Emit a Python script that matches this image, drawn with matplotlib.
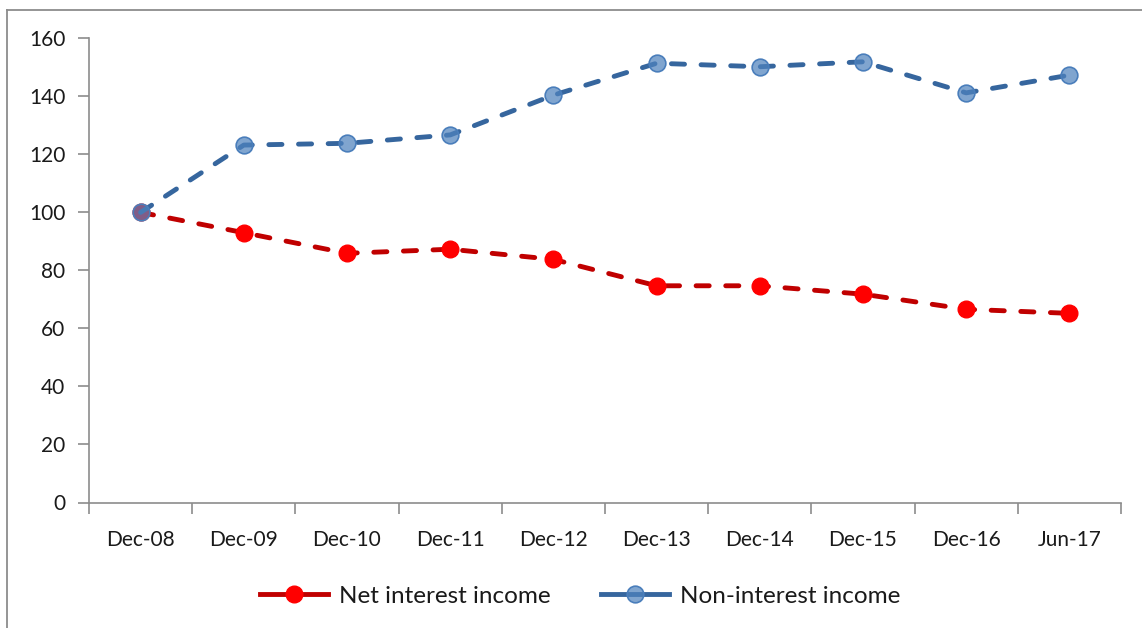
import matplotlib
matplotlib.use("Agg")
import matplotlib.pyplot as plt
from matplotlib.lines import Line2D

categories = ["Dec-08", "Dec-09", "Dec-10", "Dec-11", "Dec-12",
              "Dec-13", "Dec-14", "Dec-15", "Dec-16", "Jun-17"]
net_interest = [100, 93.0, 85.9, 87.3, 83.8, 74.7, 74.7, 71.8, 66.6, 65.2]
non_interest = [100, 123.2, 123.8, 126.7, 140.4, 151.4, 150.2, 151.9, 141.2, 147.3]
y_ticks = [0, 20, 40, 60, 80, 100, 120, 140, 160]

plt.rcParams['font.family'] = ['Lato', 'DejaVu Sans']

W, H = 1142, 628
fig = plt.figure(figsize=(W / 100, H / 100), dpi=100)
ax = fig.add_axes([89 / W, 1 - 502.5 / H, (1121 - 89) / W, (502.5 - 38.3) / H])

x = list(range(len(categories)))
dash = (0, (2.7, 3.4))

ax.plot(x, net_interest, color='#C00000', lw=3.5, linestyle=dash,
        dash_capstyle='round', marker='o', markersize=12,
        markerfacecolor='#FF0000', markeredgecolor='#FF0000', markeredgewidth=1,
        label='Net interest income', zorder=3)
ax.plot(x, non_interest, color='#36669E', lw=3.5, linestyle=dash,
        dash_capstyle='round', marker='o', markersize=12,
        markerfacecolor=(0.31, 0.51, 0.74, 0.72), markeredgecolor='#4A7EBB',
        markeredgewidth=1.2, label='Non-interest income', zorder=4)

ax.set_xlim(-0.5, len(categories) - 0.5)
ax.set_ylim(0, 160)
ax.set_yticks(y_ticks)
ax.set_yticklabels([str(v) for v in y_ticks])

ax.set_xticks([i - 0.5 for i in range(len(categories) + 1)])
ax.set_xticklabels([])
ax.set_xticks(x, minor=True)
ax.set_xticklabels(categories, minor=True)
ax.tick_params(axis='x', which='minor', length=0, pad=20, labelsize=15, labelcolor='#1a1a1a')
ax.tick_params(axis='x', which='major', length=8, width=1.2, color='#8c8c8c', direction='out')
ax.tick_params(axis='y', length=8, width=1.2, color='#8c8c8c', labelsize=15,
               labelcolor='#1a1a1a', pad=9)

for s in ['top', 'right']:
    ax.spines[s].set_visible(False)
for s in ['left', 'bottom']:
    ax.spines[s].set_color('#8c8c8c')
    ax.spines[s].set_linewidth(1.2)

leg = fig.legend(loc='center', bbox_to_anchor=(0.508, 1 - 596 / H), ncol=2, frameon=False,
                 fontsize=17.5, handlelength=2.8, columnspacing=2.1, handletextpad=0.45)
for h in leg.legend_handles:
    h.set_linestyle('-')
for t in leg.get_texts():
    t.set_color('#1a1a1a')

# figure border (left and top visible)
fig.add_artist(Line2D([7 / W, 7 / W], [0, 1 - 9.5 / H], transform=fig.transFigure,
                      color='#8c8c8c', lw=1.3))
fig.add_artist(Line2D([7 / W, 1], [1 - 9.5 / H, 1 - 9.5 / H], transform=fig.transFigure,
                      color='#8c8c8c', lw=1.3))

fig.savefig('out.png', dpi=100)
